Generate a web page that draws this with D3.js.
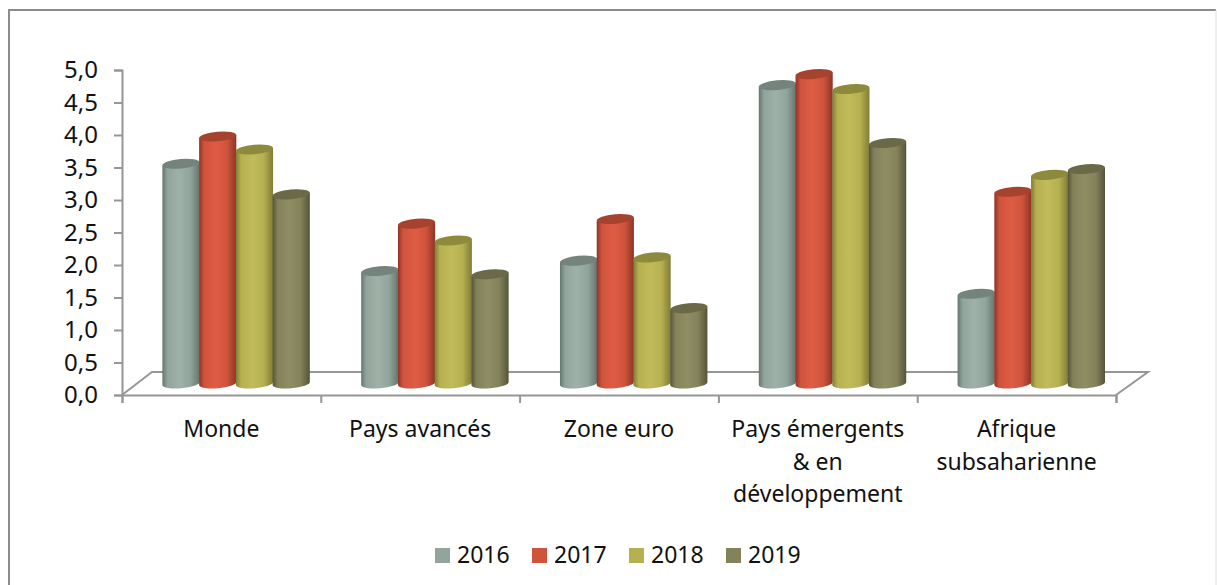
<!DOCTYPE html>
<html>
<head>
<meta charset="utf-8">
<script src="https://cdn.jsdelivr.net/npm/d3@7"></script>
<style>
  html, body { margin: 0; padding: 0; background: #fff; overflow: hidden; }
  text { font-family: "Noto Sans", sans-serif; fill: #111; }
</style>
</head>
<body>
<div id="chart"></div>
<script>
const categories = ["Monde", "Pays avancés", "Zone euro", "Pays émergents\n& en\ndéveloppement", "Afrique\nsubsaharienne"];
const years = ["2016", "2017", "2018", "2019"];
const values2016 = [3.38, 1.73, 1.89, 4.59, 1.38];
const values2017 = [3.80, 2.46, 2.53, 4.76, 2.95];
const values2018 = [3.60, 2.20, 1.94, 4.53, 3.21];
const values2019 = [2.91, 1.68, 1.16, 3.70, 3.30];
const seriesValues = [values2016, values2017, values2018, values2019];
const yTicks = [0, 0.5, 1, 1.5, 2, 2.5, 3, 3.5, 4, 4.5, 5];

// legend, body highlight, body edge, top cap
const colors = [
    ["#91a59c", "#9fb0a7", "#66766f", "#74847c"],
    ["#d0533c", "#df5c44", "#8e3526", "#a5432f"],
    ["#b6b050", "#c0bb5b", "#807c36", "#8e8a3c"],
    ["#84825a", "#8f8d64", "#55543a", "#6a6948"]
];

const width = 1217;
const height = 585;
const axisColor = "#969696";
const depthX = 14.7, depthY = 11.5;   // bars stand halfway into the floor
const capRx = 18.6, capRy = 4.8, capTilt = -5;

const svg = d3.select("#chart").append("svg")
    .attr("width", width)
    .attr("height", height)
    .style("display", "block");

const x = d3.scaleBand().domain(d3.range(categories.length)).range([122, 1116]);
const inner = d3.scaleBand().domain(d3.range(years.length)).range([-73.5, 73.5]);
const y = d3.scaleLinear().domain([0, 5]).range([395, 70]);

// Frame (no bottom edge, it is cut off in the picture)
svg.append("path")
    .attr("d", "M9,585V10H1216")
    .attr("fill", "none")
    .attr("stroke", "#8c8c8c")
    .attr("stroke-width", 2);
svg.append("line")
    .attr("x1", 1216).attr("x2", 1216).attr("y1", 10).attr("y2", 585)
    .attr("stroke", "#dedede");

// Gradients for the cylinders
const defs = svg.append("defs");
colors.forEach((c, i) => {
    const g = defs.append("linearGradient").attr("id", "cyl" + i);
    [[0, c[2]], [0.14, c[0]], [0.45, c[1]], [0.75, c[0]], [1, c[2]]].forEach(s => {
        g.append("stop").attr("offset", s[0]).attr("stop-color", s[1]);
    });
});

// Floor
svg.append("path")
    .attr("d", `M122,${y(0)}L152,372H1148L1116,${y(0)}`)
    .attr("fill", "none")
    .attr("stroke", axisColor)
    .attr("stroke-width", 2);

// Y axis
const yAxis = svg.append("g")
    .attr("transform", "translate(122,0)")
    .call(d3.axisLeft(y).tickValues(yTicks).tickSize(8).tickPadding(16)
        .tickFormat(d => d3.format(".1f")(d).replace(".", ",")));
yAxis.selectAll("path, line").attr("stroke", axisColor).attr("stroke-width", 2);
yAxis.selectAll("text").attr("font-size", 24).attr("font-family", null).style("fill", "#111");

// X axis, ticks sit on the band edges
const xEdges = d3.scaleLinear().domain([0, categories.length]).range(x.range());
const xAxis = svg.append("g")
    .attr("transform", `translate(0,${y(0)})`)
    .call(d3.axisBottom(xEdges).tickValues(d3.range(categories.length + 1)).tickSize(8).tickFormat(""));
xAxis.selectAll("path, line").attr("stroke", axisColor).attr("stroke-width", 2);

// Category labels
svg.append("g").selectAll("text")
    .data(categories)
    .enter().append("text")
    .attr("text-anchor", "middle")
    .attr("font-size", 23)
    .attr("y", 437)
    .each(function(d, i) {
        d.split("\n").forEach((line, k) => {
            d3.select(this).append("tspan")
                .attr("x", x(i) + x.bandwidth() / 2)
                .attr("dy", k ? 32.5 : 0)
                .text(line);
        });
    });

// Cylinders
const tiltY = capRx * Math.sin(capTilt * Math.PI / 180);
years.forEach((year, s) => {
    const g = svg.append("g");
    seriesValues[s].forEach((v, i) => {
        const cx = x(i) + x.bandwidth() / 2 + depthX + inner(s) + inner.bandwidth() / 2;
        const top = y(v) - depthY;
        const base = y(0) - depthY;
        const rot = `${capRx} ${capRy} ${capTilt}`;
        g.append("path")
            .attr("d", `M${cx - capRx},${top - tiltY}` +
                `L${cx - capRx},${base - tiltY}` +
                `A${rot} 0 0 ${cx + capRx},${base + tiltY}` +
                `L${cx + capRx},${top + tiltY}Z`)
            .attr("fill", `url(#cyl${s})`);
        g.append("ellipse")
            .attr("cx", cx).attr("cy", top)
            .attr("rx", capRx).attr("ry", capRy)
            .attr("transform", `rotate(${capTilt} ${cx} ${top})`)
            .attr("fill", colors[s][3]);
    });
});

// Legend
const legendX = d3.scalePoint().domain(years).range([435, 726]);
const legend = svg.append("g").selectAll("g")
    .data(years)
    .enter().append("g")
    .attr("transform", d => `translate(${legendX(d)},548)`);
legend.append("rect")
    .attr("width", 15).attr("height", 15)
    .attr("fill", (d, i) => colors[i][0]);
legend.append("text")
    .attr("x", 22).attr("y", 15)
    .attr("font-size", 23)
    .text(d => d);
</script>
</body>
</html>
